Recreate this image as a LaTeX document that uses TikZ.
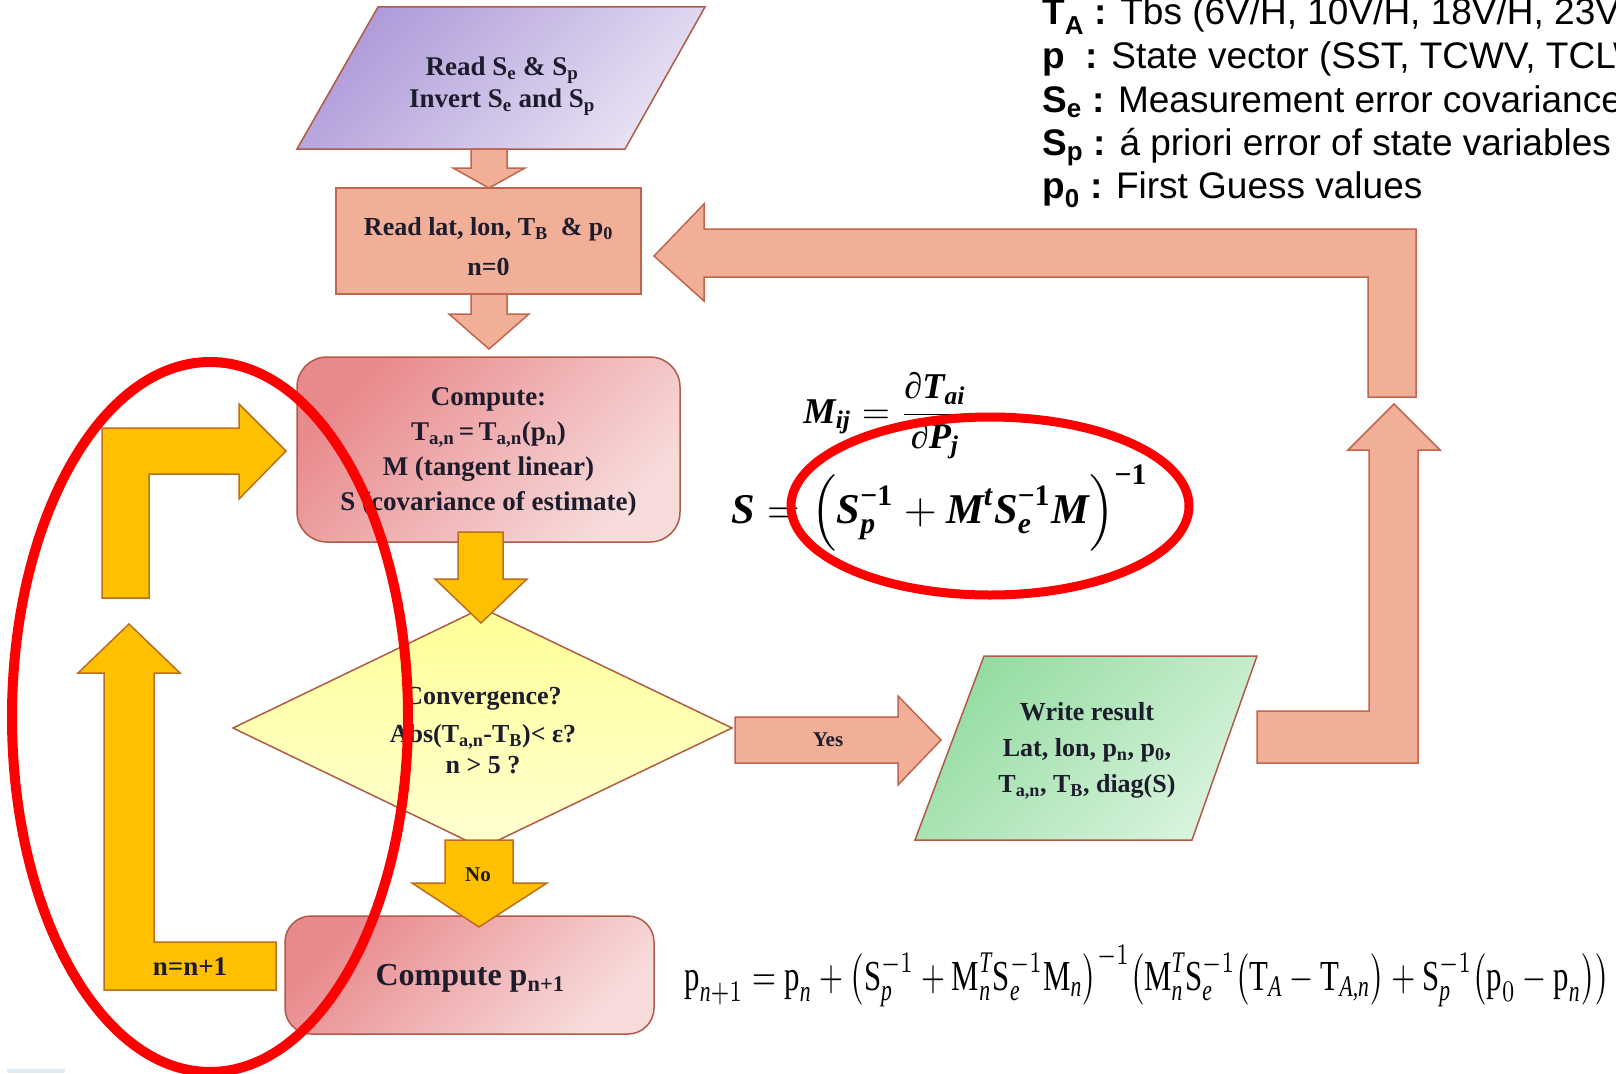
\documentclass[tikz,border=0pt]{standalone}
\usepackage{amsmath,graphicx}
\usepackage{fontspec}
\setmainfont{Liberation Serif}
\newfontfamily\arialf{Liberation Sans}
\newcommand\bi[1]{\text{\bfseries\itshape #1}}
\newcommand\bu[1]{\text{\bfseries #1}}
\newcommand\tr[1]{\text{\normalfont #1}}
\newcommand\ti[1]{\text{\normalfont\itshape #1}}
\definecolor{salmon}{HTML}{F2AF97}
\definecolor{salmonline}{HTML}{C0654E}
\definecolor{gold}{HTML}{FFC000}
\definecolor{goldline}{HTML}{BC6E1E}
\definecolor{boxline}{HTML}{B05A48}
\definecolor{pinkA}{HTML}{E8898C}
\definecolor{pinkB}{HTML}{F8DCDC}
\definecolor{purpA}{HTML}{AE9AD9}
\definecolor{purpB}{HTML}{E8E2F3}
\definecolor{greenA}{HTML}{94DCA2}
\definecolor{greenB}{HTML}{D8F3DC}
\definecolor{yelA}{HTML}{FFFF96}
\definecolor{yelB}{HTML}{FFFFD2}
\definecolor{ink}{HTML}{1C1C2C}
\definecolor{redring}{HTML}{FF0000}
\definecolor{paleblue}{HTML}{DDEBF7}
\begin{document}
\begin{tikzpicture}[x=1pt,y=-1pt,
  salarrow/.style={fill=salmon, draw=salmonline, line width=1.5pt},
  goldarrow/.style={fill=gold, draw=goldline, line width=1.5pt},
  shapeline/.style={draw=boxline, line width=1.5pt},
  boxtxt/.style={text=ink, font=\fontsize{27}{35}\selectfont\bfseries, align=center, inner sep=0pt},
  lbltxt/.style={text=ink, font=\fontsize{21}{25}\selectfont\bfseries, inner sep=0pt},
  legtxt/.style={anchor=base west, inner sep=0pt, text=black, font=\arialf\fontsize{37}{44}\selectfont},
  ring/.style={draw=redring, line width=10pt},
]
\useasboundingbox (0,0) rectangle (1616,1073);
\fill[white] (0,0) rectangle (1616,1073);
\fill[paleblue] (7,1069) rectangle (65,1073);

% ---------- shapes ----------
\path[shapeline, top color=purpA, bottom color=purpB, shading angle=45]
  (378,7) -- (705,7) -- (625,149) -- (297,149) -- cycle;
\node[draw=salmonline, line width=1.5pt, fill=salmon, minimum width=305pt, minimum height=106pt, inner sep=0pt] (readbox) at (488.5,241) {};
\node[shapeline, rounded corners=30pt, top color=pinkA, bottom color=pinkB, shading angle=45,
      minimum width=383pt, minimum height=185pt, inner sep=0pt] (compbox) at (488.5,449.5) {};
\path[shapeline, top color=yelA, bottom color=yelB]
  (233,728) -- (482,608) -- (732,728) -- (482,848) -- cycle;
\path[shapeline, top color=greenA, bottom color=greenB, shading angle=45]
  (984,656) -- (1257,656) -- (1192,840) -- (915,840) -- cycle;
\node[shapeline, rounded corners=26pt, top color=pinkA, bottom color=pinkB, shading angle=45,
      minimum width=369pt, minimum height=118pt, inner sep=0pt] (pbox) at (469.5,975) {};

% ---------- block arrows ----------
\path[salarrow] (471,149) -- (507,149) -- (507,168) -- (525,168) -- (489,188) -- (453,168) -- (471,168) -- cycle;
\path[salarrow] (471,294) -- (507,294) -- (507,314) -- (529,314) -- (489,349) -- (449,314) -- (471,314) -- cycle;
\path[goldarrow] (458,532) -- (503,532) -- (503,579) -- (527,579) -- (481,623) -- (435,579) -- (458,579) -- cycle;
\path[goldarrow] (445,840) -- (513,840) -- (513,883) -- (547,883) -- (479,927) -- (412,883) -- (445,883) -- cycle;
\path[salarrow] (735,717) -- (898,717) -- (898,696) -- (941,740) -- (898,785) -- (898,763) -- (735,763) -- cycle;
\path[salarrow] (1257,711) -- (1369,711) -- (1369,450) -- (1348,450) -- (1394,404) -- (1440,450) -- (1418,450) -- (1418,763) -- (1257,763) -- cycle;
\path[salarrow] (654,256) -- (704,204) -- (704,229) -- (1416,229) -- (1416,397) -- (1368,397) -- (1368,277) -- (704,277) -- (704,301) -- cycle;
\path[goldarrow] (104,990) -- (276,990) -- (276,942) -- (154,942) -- (154,673) -- (180,673) -- (129,624) -- (78,673) -- (104,673) -- cycle;
\path[goldarrow] (102,598) -- (102,428) -- (239,428) -- (239,404) -- (286,451) -- (239,499) -- (239,474) -- (149,474) -- (149,598) -- cycle;

% ---------- texts in shapes ----------
\node[boxtxt, font=\fontsize{27}{32}\selectfont\bfseries] (purptxt) at (502,86)
  {Read S\textsubscript{e} \& S\textsubscript{p}\\Invert S\textsubscript{e} and S\textsubscript{p}};
\node[boxtxt, font=\fontsize{26}{40}\selectfont\bfseries] (readtxt) at (488.5,247)
  {Read lat, lon, T\textsubscript{B}\enspace\& p\textsubscript{0}\\n=0};
\node[boxtxt] (comptxt) at (488.5,452)
  {Compute:\\T\textsubscript{a,n}\,=\,T\textsubscript{a,n}(p\textsubscript{n})\\M (tangent linear)\\S (covariance of estimate)};
\node[boxtxt, font=\fontsize{26}{31}\selectfont\bfseries] (convtxt) at (483,731)
  {Convergence?\\[7pt]Abs(T\textsubscript{a,n}-T\textsubscript{B})< ε?\\n > 5 ?};
\node[boxtxt, font=\fontsize{26}{36}\selectfont\bfseries] (writetxt) at (1087,751)
  {Write result\\Lat, lon, p\textsubscript{n}, p\textsubscript{0},\\T\textsubscript{a,n}, T\textsubscript{B}, diag(S)};
\node[boxtxt, font=\fontsize{32}{38}\selectfont\bfseries] (ptxt) at (470,978) {Compute p\textsubscript{n+1}};
\node[lbltxt] (yes) at (828,740) {Yes};
\node[lbltxt] (no) at (478,875) {No};
\node[lbltxt, font=\fontsize{27}{30}\selectfont\bfseries] (incr) at (190,967) {n=n+1};

% ---------- formulas ----------
\node[inner sep=0pt] (mform) at (887,416)
  {\resizebox{167pt}{!}{$\displaystyle \bi{M}_{\bi{ij}} = \frac{\bi{∂T}_{\bi{ai}}}{\bi{∂P}_{\bi{j}}}$}};
\node[inner sep=0pt] (sform) at (940,508)
  {\resizebox{417pt}{!}{$\displaystyle \bi{S} = \Bigl(\bi{S}_{\bi{p}}^{\bu{−1}} + \bi{M}^{\bi{t}}\bi{S}_{\bi{e}}^{\bu{−1}}\bi{M}\Bigr)^{\bu{−1}}$}};
\node[inner sep=0pt] (pform) at (1147,976)
  {\resizebox*{925pt}{62pt}{$\tr{p}_{\ti{n}+1} = \tr{p}_{\ti{n}} + \bigl(\tr{S}_{\ti{p}}^{-1} + \tr{M}_{\ti{n}}^{\ti{T}}\tr{S}_{\ti{e}}^{-1}\tr{M}_{\ti{n}}\bigr)^{-1}\bigl(\tr{M}_{\ti{n}}^{\ti{T}}\tr{S}_{\ti{e}}^{-1}\bigl(\tr{T}_{\ti{A}} - \tr{T}_{\ti{A,n}}\bigr) + \tr{S}_{\ti{p}}^{-1}\bigl(\tr{p}_{0} - \tr{p}_{\ti{n}}\bigr)\bigr)$}};

% ---------- legend ----------
\node[legtxt] (legA) at (1042,25) {\textbf{T\textsubscript{A} :} Tbs (6V/H, 10V/H, 18V/H, 23V/H};
\node[legtxt] (legB) at (1042,68) {\textbf{p\ \ :} State vector (SST, TCWV, TCLW)};
\node[legtxt] (legC) at (1042,112) {\textbf{S\textsubscript{e} :} Measurement error covariance};
\node[legtxt] (legD) at (1042,155) {\textbf{S\textsubscript{p} :} á priori error of state variables};
\node[legtxt] (legE) at (1042,198) {\textbf{p\textsubscript{0} :} First Guess values};

% ---------- red rings ----------
\draw[ring] (210,717) ellipse [x radius=198, y radius=355];
\draw[ring, line width=9pt] (990,506) ellipse [x radius=199, y radius=89];
\end{tikzpicture}
\end{document}
